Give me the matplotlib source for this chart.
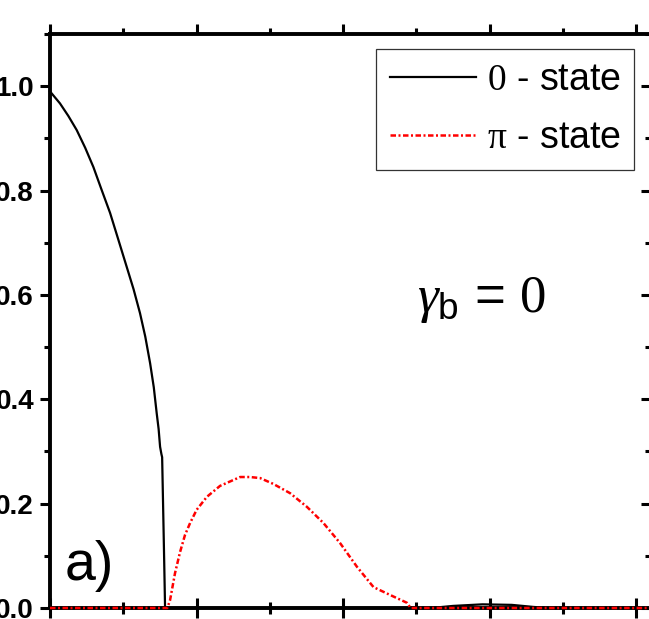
import matplotlib
matplotlib.use('Agg')
from matplotlib import pyplot as plt
from matplotlib import lines as mlines
from matplotlib.ticker import MultipleLocator

plt.rcParams['font.family'] = ['Liberation Sans', 'DejaVu Sans']
plt.rcParams['mathtext.fontset'] = 'custom'
plt.rcParams['mathtext.rm'] = 'Liberation Serif'
plt.rcParams['mathtext.sf'] = 'Liberation Sans'
plt.rcParams['mathtext.it'] = 'Liberation Serif:italic'

# 0 - state curve
x_zero = [0, 0.068, 0.125, 0.182, 0.24, 0.296, 0.35, 0.41, 0.465, 0.523, 0.57, 0.614,
          0.65, 0.683, 0.708, 0.728, 0.741, 0.751, 0.76, 0.765, 0.772, 0.779, 0.785,
          2.6, 2.75, 2.95, 3.15, 3.3, 3.4, 4.1]
y_zero = [0.99, 0.967, 0.943, 0.916, 0.882, 0.845, 0.803, 0.757, 0.707, 0.654, 0.611, 0.565,
          0.52, 0.469, 0.423, 0.373, 0.343, 0.309, 0.295, 0.289, 0.19, 0.09, 0.0,
          0.0, 0.004, 0.007, 0.006, 0.002, 0.0, 0.0]

# pi - state curve
x_pi = [0, 0.80, 0.819, 0.853, 0.887, 0.921, 0.956, 1.0, 1.07, 1.16, 1.297, 1.365,
        1.433, 1.522, 1.638, 1.752, 1.865, 1.98, 2.094, 2.207, 2.32, 2.435, 2.46, 4.1]
y_pi = [0, 0, 0.015, 0.067, 0.107, 0.140, 0.163, 0.188, 0.213, 0.234, 0.251, 0.251,
        0.249, 0.238, 0.220, 0.194, 0.163, 0.124, 0.079, 0.040, 0.025, 0.010, 0, 0]

yticks = [0.0, 0.2, 0.4, 0.6, 0.8, 1.0]
ytick_labels = ['0.0', '0.2', '0.4', '0.6', '0.8', '1.0']

W, H = 649, 619
fig = plt.figure(figsize=(W / 100, H / 100), dpi=100)
ax = fig.add_axes([50 / W, (H - 608) / H, (651 - 50) / W, (608 - 34) / H])

ax.plot(x_zero, y_zero, color='black', lw=1.6, label=r'$\mathrm{0}$ - state',
        zorder=2.6, clip_on=False)
ax.plot(x_pi, y_pi, color='red', lw=1.8, linestyle=(0, (2.2, 1.0, 0.8, 1.0)),
        label=r'$\mathrm{\pi}$ - state', zorder=3, clip_on=False)

ax.set_xlim(0, 4.1)
ax.set_ylim(0, 1.1)
ax.xaxis.set_major_locator(MultipleLocator(1))
ax.xaxis.set_minor_locator(MultipleLocator(0.5))
ax.set_yticks(yticks)
ax.set_yticklabels(ytick_labels)
ax.yaxis.set_minor_locator(MultipleLocator(0.1))

for s in ax.spines.values():
    s.set_linewidth(2.8)

ax.tick_params(axis='y', which='major', direction='out', length=7.5, width=2.2,
               labelsize=20, pad=4)
ax.tick_params(axis='y', which='minor', direction='out', length=4.3, width=2.2)
ax.tick_params(axis='y', which='both', right=True)
ax.tick_params(axis='x', which='major', direction='inout', length=15, width=2.2)
ax.tick_params(axis='x', which='minor', direction='inout', length=9, width=2.2)
ax.tick_params(axis='x', which='both', top=True, labelbottom=False)
for lab in ax.get_yticklabels():
    lab.set_fontweight('bold')

# top ticks point out, right ticks point in
for t in ax.xaxis.get_major_ticks():
    t.tick2line.set_marker(mlines.TICKUP)
    t.tick2line.set_markersize(7.5)
for t in ax.xaxis.get_minor_ticks():
    t.tick2line.set_marker(mlines.TICKUP)
    t.tick2line.set_markersize(4.3)
for t in ax.yaxis.get_major_ticks():
    t.tick2line.set_marker(mlines.TICKLEFT)
    t.tick2line.set_markersize(7.5)
for t in ax.yaxis.get_minor_ticks():
    t.tick2line.set_marker(mlines.TICKLEFT)
    t.tick2line.set_markersize(4.3)

leg = ax.legend(loc='upper left', bbox_to_anchor=(376 / W, 1 - 49 / H),
                bbox_transform=fig.transFigure, fontsize=27, frameon=True,
                fancybox=False, edgecolor='black', borderaxespad=0,
                handlelength=2.3, handletextpad=0.3, borderpad=0.36,
                labelspacing=0.58)
leg.get_frame().set_linewidth(0.9)

ax.text(2.505, 0.567, r'$\gamma_\mathsf{b}$ = $\mathrm{0}$', fontsize=38,
        ha='left', va='baseline')
ax.text(0.10, 0.054, 'a)', fontsize=40, ha='left', va='baseline')

fig.savefig('out.png', dpi=100)
